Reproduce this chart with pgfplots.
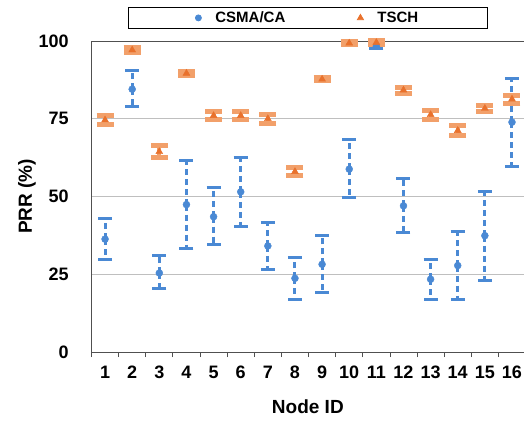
\documentclass[border=0pt]{standalone}
\usepackage{fontspec}
\setmainfont{Liberation Sans}
\usepackage{pgfplots}
\pgfplotsset{compat=1.18}

\definecolor{csma}{RGB}{74,137,212}
\definecolor{tschmark}{RGB}{233,113,44}
\definecolor{tschbar}{RGB}{242,160,106}
\definecolor{gridgray}{RGB}{191,191,191}
\definecolor{axisgray}{RGB}{80,80,80}

\begin{document}
\begin{tikzpicture}
\useasboundingbox (-91.5pt,-68pt) rectangle (432.5pt,352pt);
\begin{axis}[
    scale only axis,
    width=432.7pt,
    height=311pt,
    xmin=0.5, xmax=16.45,
    ymin=0, ymax=100,
    clip=false,
    axis x line*=bottom,
    axis y line*=left,
    axis line style={axisgray, line width=0.8pt},
    xtick={1,...,16},
    minor xtick={0.5,1.5,...,16.5},
    major x tick style={draw=none},
    minor x tick style={axisgray, line width=0.8pt},
    minor tick length=5pt,
    tick align=outside,
    ytick={0,25,50,75},
    extra y ticks={100},
    extra y tick style={grid style={axisgray, line width=0.8pt}},
    ymajorgrids,
    grid style={gridgray, line width=0.8pt},
    major y tick style={draw=none},
    ticklabel style={font=\fontsize{18}{20}\selectfont\bfseries},
    /pgf/number format/assume math mode=true,
    xticklabel style={yshift=-6pt},
    yticklabel style={xshift=-15pt},
    xlabel={Node ID},
    ylabel={PRR (\%)},
    label style={font=\fontsize{19}{21}\selectfont\bfseries},
    xlabel style={at={(axis description cs:0.5,0)}, anchor=center, yshift=-55pt},
    ylabel style={at={(axis description cs:-0.149,0.5)}, anchor=center},
    legend columns=2,
    legend style={at={(axis description cs:0.5,1)}, anchor=south, yshift=12pt,
        draw=black, line width=0.8pt, inner xsep=67pt, inner ysep=2.5pt,
        font=\fontsize{15}{17}\selectfont\bfseries,
        /tikz/every odd column/.append style={column sep=12pt},
        /tikz/every even column/.append style={column sep=70pt}},
]
\addlegendimage{only marks, mark=*, mark size=3pt, color=csma}
\addlegendentry{CSMA/CA}
\addlegendimage{only marks, mark=triangle*, mark size=3.5pt, color=tschmark}
\addlegendentry{TSCH}

% CSMA/CA
\addplot[forget plot, only marks, mark=*, mark size=3.5pt, color=csma,
    error bars/.cd, y dir=both, y explicit,
    error bar style={color=csma, line width=3pt, dash pattern=on 6pt off 4pt},
    error mark options={rotate=90, mark size=7pt, line width=3pt, solid, color=csma}]
coordinates {
    (1,36.3)  += (0,6.7)  -= (0,6.7)
    (2,84.5)  += (0,5.9)  -= (0,5.7)
    (3,25.4)  += (0,5.5)  -= (0,5.1)
    (4,47.4)  += (0,14.1) -= (0,14.2)
    (5,43.5)  += (0,9.3)  -= (0,9.0)
    (6,51.5)  += (0,11.2) -= (0,11.0)
    (7,34.1)  += (0,7.6)  -= (0,7.7)
    (8,23.7)  += (0,6.7)  -= (0,6.9)
    (9,28.2)  += (0,9.2)  -= (0,9.1)
    (10,58.8) += (0,9.6)  -= (0,9.2)
    (11,98.3) += (0,0.6)  -= (0,0.6)
    (12,47.0) += (0,8.8)  -= (0,8.6)
    (13,23.4) += (0,6.2)  -= (0,6.4)
    (14,27.8) += (0,10.8) -= (0,10.8)
    (15,37.4) += (0,14.2) -= (0,14.5)
    (16,73.9) += (0,14.2) -= (0,14.2)
};

% TSCH
\addplot[forget plot, only marks, mark=triangle*, mark size=4pt, color=tschmark,
    error bars/.cd, y dir=both, y explicit,
    error bar style={color=tschbar, line width=4pt},
    error mark options={rotate=90, mark size=8.5pt, line width=5pt, color=tschbar}]
coordinates {
    (1,74.6)  +- (0,1.4)
    (2,97.1)  +- (0,0.7)
    (3,64.4)  +- (0,2.0)
    (4,89.6)  +- (0,0.7)
    (5,76.0)  +- (0,1.4)
    (6,76.0)  +- (0,1.3)
    (7,75.0)  +- (0,1.5)
    (8,58.0)  +- (0,1.4)
    (9,87.7)  +- (0,0.5)
    (10,99.3) +- (0,0.4)
    (11,99.5) +- (0,0.5)
    (12,84.2) +- (0,1.0)
    (13,76.3) +- (0,1.5)
    (14,71.2) +- (0,1.5)
    (15,78.3) +- (0,1.0)
    (16,81.3) +- (0,1.3)
};
\end{axis}
\end{tikzpicture}
\end{document}
